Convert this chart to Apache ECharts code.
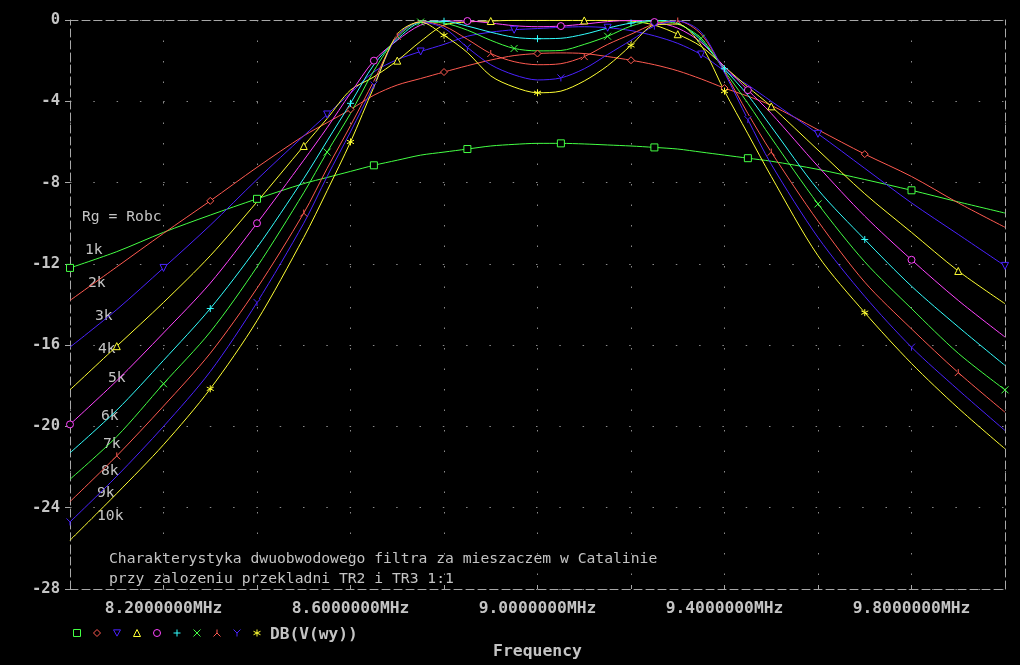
<!DOCTYPE html>
<html>
<head>
<meta charset="utf-8">
<script src="https://cdn.jsdelivr.net/npm/echarts@6/dist/echarts.min.js"></script>
<style>
  html, body { margin: 0; padding: 0; background: #000; }
  #chart { width: 1020px; height: 665px; }
</style>
</head>
<body>
<div id="chart"></div>
<script>
// frequency points (MHz)
const freqMHz = [8.0, 8.1, 8.2, 8.3, 8.4, 8.5, 8.55, 8.6, 8.65, 8.7, 8.75, 8.8, 8.85, 8.9, 8.95,
  9.0, 9.05, 9.1, 9.15, 9.2, 9.25, 9.3, 9.35, 9.4, 9.45, 9.5, 9.6, 9.7, 9.8, 9.9, 10.0];

// DB(V(wy)) for each Rg
const db1k = [-12.2, -11.4, -10.45, -9.6, -8.8, -8.05, -7.75, -7.45, -7.15, -6.9, -6.65, -6.5, -6.35, -6.2, -6.12,
  -6.07, -6.07, -6.1, -6.15, -6.2, -6.27, -6.35, -6.5, -6.65, -6.8, -6.95, -7.35, -7.85, -8.38, -8.95, -9.5];
const db2k = [-13.8, -12.15, -10.5, -8.9, -7.25, -5.7, -5.05, -4.4, -3.7, -3.2, -2.88, -2.56, -2.25, -1.97, -1.75,
  -1.65, -1.62, -1.65, -1.8, -1.98, -2.2, -2.5, -2.9, -3.35, -3.75, -4.2, -5.4, -6.6, -7.7, -9.0, -10.2];
const db3k = [-16.1, -14.25, -12.2, -10.1, -7.85, -5.7, -4.65, -3.6, -2.55, -1.95, -1.55, -1.2, -0.8, -0.6, -0.48,
  -0.42, -0.36, -0.33, -0.38, -0.52, -0.78, -1.15, -1.7, -2.5, -3.2, -4.0, -5.6, -7.3, -9.0, -10.55, -12.1];
const db4k = [-18.2, -16.05, -13.9, -11.6, -8.95, -6.2, -4.85, -3.45, -2.8, -2.0, -1.05, -0.25, -0.1, -0.05, -0.02,
  -0.02, -0.02, -0.02, -0.02, -0.05, -0.25, -0.7, -1.3, -2.3, -3.3, -4.25, -6.4, -8.55, -10.45, -12.35, -13.96];
const db5k = [-19.9, -17.75, -15.4, -12.95, -10.0, -6.9, -5.3, -3.6, -2.0, -1.0, -0.25, -0.05, -0.05, -0.15, -0.28,
  -0.33, -0.3, -0.2, -0.08, -0.02, -0.1, -0.4, -1.1, -2.3, -3.45, -4.6, -7.2, -9.65, -11.8, -13.8, -15.6];
const db6k = [-21.3, -19.2, -16.75, -14.2, -11.2, -7.8, -5.95, -4.1, -2.2, -0.95, -0.12, -0.06, -0.3, -0.6, -0.85,
  -0.92, -0.9, -0.7, -0.4, -0.15, -0.02, -0.15, -1.0, -2.4, -3.7, -5.25, -8.35, -10.8, -13.1, -15.1, -17.0];
const db7k = [-22.6, -20.5, -17.9, -15.35, -12.15, -8.5, -6.5, -4.6, -2.5, -0.85, -0.1, -0.15, -0.5, -1.0, -1.4,
  -1.52, -1.5, -1.2, -0.8, -0.3, -0.05, -0.2, -0.9, -2.5, -4.1, -5.8, -9.05, -11.9, -14.2, -16.4, -18.2];
const db8k = [-23.7, -21.45, -19.0, -16.4, -13.2, -9.5, -7.3, -5.2, -3.0, -0.8, -0.08, -0.3, -0.95, -1.65, -2.05,
  -2.2, -2.15, -1.8, -1.2, -0.7, -0.2, -0.05, -0.7, -2.55, -4.6, -6.5, -9.9, -12.9, -15.2, -17.35, -19.3];
const db9k = [-24.7, -22.45, -20.0, -17.3, -13.9, -10.0, -7.7, -5.5, -3.2, -0.8, -0.1, -0.4, -1.35, -2.2, -2.7,
  -2.95, -2.85, -2.4, -1.7, -1.0, -0.3, -0.05, -0.6, -2.6, -4.9, -7.1, -10.7, -13.6, -16.1, -18.2, -20.2];
const db10k = [-25.6, -23.3, -20.9, -18.15, -14.8, -10.7, -8.4, -6.0, -3.3, -0.7, -0.1, -0.75, -1.6, -2.75, -3.3,
  -3.58, -3.5, -3.0, -2.25, -1.25, -0.25, -0.2, -1.25, -3.5, -5.6, -7.7, -11.6, -14.4, -16.9, -19.1, -21.1];

const seriesNames = ['1k', '2k', '3k', '4k', '5k', '6k', '7k', '8k', '9k', '10k'];
const seriesData = [db1k, db2k, db3k, db4k, db5k, db6k, db7k, db8k, db9k, db10k];

// tick labels shown on the frequency axis
const freqLabels = [8.2, 8.6, 9.0, 9.4, 9.8];

// texts on the plot
const titleLines = ['Charakterystyka dwuobwodowego filtra za mieszaczem w Catalinie',
  'przy zalozeniu przekladni TR2 i TR3 1:1'];
const rgHeader = 'Rg = Robc';
const traceName = 'DB(V(wy))';

// ---- style / layout ----
const curveColors = ['#44ff44', '#ff5a50', '#4a22ff', '#ffff33', '#ff44ff',
  '#33ffff', '#44ff44', '#ff5a50', '#4a22ff', '#ffff33'];
const curveSymbols = [
  'rect',
  'diamond',
  'path://M0,0L10,0L5,9Z',
  'triangle',
  'circle',
  'path://M5,0L5,10M0,5L10,5',
  'path://M0,0L10,10M10,0L0,10',
  'path://M5,0L5,5L0,10M5,5L10,10',
  'path://M0,0L5,5L10,0M5,5L5,10',
  'path://M5,0L5,10M0,2.5L10,7.5M10,2.5L0,7.5'
];
const rgLabelPos = [[85, 250], [88, 283], [95, 316], [98, 349], [108, 378],
  [101, 416], [103, 444], [101, 471], [97, 493], [97, 516]];

const frameColor = '#a8a8a8';
const textColor = '#c4c4c4';
const mono = '"DejaVu Sans Mono", "Liberation Mono", monospace';

let chart = echarts.init(document.getElementById('chart'), null, { renderer: 'canvas' });

function frameAxis(extra) {
  return Object.assign({
    type: 'value',
    axisLine: { show: true, onZero: false, lineStyle: { color: frameColor, type: [8, 4], width: 1 } },
    axisTick: { show: false },
    axisLabel: { show: false },
    splitLine: { show: false }
  }, extra);
}

let graphics = [];
graphics.push({
  type: 'text', x: 82, y: 217,
  style: { text: rgHeader, fill: textColor, font: '14.7px ' + mono, verticalAlign: 'middle' }
});
seriesNames.forEach(function (name, s) {
  graphics.push({
    type: 'text', x: rgLabelPos[s][0], y: rgLabelPos[s][1],
    style: { text: name, fill: textColor, font: '14.7px ' + mono, verticalAlign: 'middle' }
  });
});
titleLines.forEach(function (line, i) {
  graphics.push({
    type: 'text', x: 109, y: 559 + i * 20,
    style: { text: line, fill: textColor, font: '14.7px ' + mono, verticalAlign: 'middle' }
  });
});
graphics.push({
  type: 'text', x: 270, y: 635,
  style: { text: traceName, fill: textColor, font: 'bold 16.2px ' + mono, verticalAlign: 'middle' }
});

var option = {
  backgroundColor: '#000',
  animation: false,
  textStyle: { fontFamily: mono },
  grid: { left: 70, right: 15, top: 20, bottom: 70, containLabel: false },
  xAxis: [
    {
      type: 'value',
      min: 8.0,
      max: 10.0,
      interval: 0.2,
      axisLine: { show: true, onZero: false, lineStyle: { color: frameColor, type: [8, 4], width: 1 } },
      axisTick: { show: true, inside: true, length: 4, lineStyle: { color: frameColor } },
      axisLabel: {
        color: textColor,
        fontFamily: mono,
        fontWeight: 'bold',
        fontSize: 16.3,
        margin: 12,
        formatter: function (v) {
          let hit = freqLabels.some(function (f) { return Math.abs(f - v) < 1e-6; });
          return hit ? v.toFixed(7) + 'MHz' : '';
        }
      },
      splitLine: { show: true, lineStyle: { color: '#8a8a8a', type: [1.5, 19], width: 1 } },
      name: 'Frequency',
      nameLocation: 'middle',
      nameGap: 55,
      nameTextStyle: { color: textColor, fontFamily: mono, fontWeight: 'bold', fontSize: 16.4 }
    },
    frameAxis({ position: 'top', min: 8.0, max: 10.0 })
  ],
  yAxis: [
    {
      type: 'value',
      min: -28,
      max: 0,
      interval: 4,
      axisLine: { show: true, onZero: false, lineStyle: { color: frameColor, type: [8, 4], width: 1 } },
      axisTick: { show: true, inside: false, length: 5, lineStyle: { color: frameColor } },
      axisLabel: { color: textColor, fontFamily: mono, fontWeight: 'bold', fontSize: 15.5, margin: 10 },
      splitLine: { show: true, lineStyle: { color: '#8a8a8a', type: [1.5, 21.8], width: 1 } }
    },
    frameAxis({ position: 'right', min: -28, max: 0 })
  ],
  legend: {
    left: 68,
    top: 624,
    itemWidth: 7,
    itemHeight: 7,
    itemGap: 12,
    selectedMode: false,
    formatter: function () { return ''; },
    data: seriesNames.map(function (n, s) {
      return {
        name: n,
        icon: curveSymbols[s],
        itemStyle: { color: '#000', borderColor: curveColors[s], borderWidth: 1 }
      };
    })
  },
  graphic: graphics,
  series: seriesNames.map(function (name, s) {
    return {
      name: name,
      type: 'line',
      xAxisIndex: 0,
      yAxisIndex: 0,
      smooth: 0.3,
      symbol: curveSymbols[s],
      symbolSize: 7,
      showSymbol: true,
      showAllSymbol: true,
      lineStyle: { color: curveColors[s], width: 1 },
      itemStyle: { color: '#000', borderColor: curveColors[s], borderWidth: 1 },
      emphasis: { disabled: true },
      data: freqMHz.map(function (f, i) {
        let item = { value: [f, seriesData[s][i]] };
        if ((i + s) % 4 !== 0) item.symbol = 'none';
        return item;
      })
    };
  })
};

chart.setOption(option);
</script>
</body>
</html>
